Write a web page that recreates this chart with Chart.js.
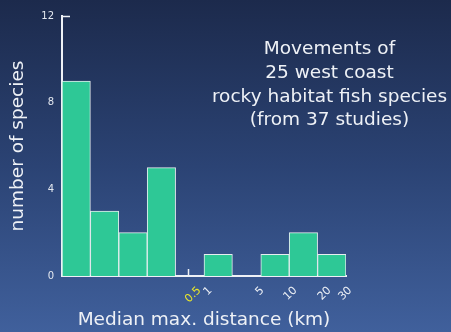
<!DOCTYPE html>
<html>
<head>
<meta charset="utf-8">
<script src="https://cdn.jsdelivr.net/npm/chart.js@4/dist/chart.umd.min.js"></script>
<style>
  html, body { margin: 0; padding: 0; }
  body { width: 451px; height: 332px; overflow: hidden;
         background: linear-gradient(to bottom, #1c2a4c 0%, #2b4374 50%, #40609c 100%); }
  #wrap { position: relative; width: 451px; height: 332px; }
  canvas { display: block; }
</style>
</head>
<body>
<div id="wrap"><canvas id="c" width="451" height="332"></canvas></div>
<script>
// Histogram bins of median maximum movement distance (10 bins, left to right)
const bins = ['b1', 'b2', 'b3', 'b4', 'b5', 'b6', 'b7', 'b8', 'b9', 'b10'];
// Number of species in each bin
const speciesCounts = [9, 3, 2, 5, 0, 1, 0, 1, 2, 1];
// Y axis tick values
const countTicks = [0, 4, 8, 12];
// Distance labels (km) and where they sit along the bin axis (in bin widths)
const distanceLabels = ['0.5', '1', '5', '10', '20', '30'];
const distanceLabelAt = [4.84, 5.23, 7.06, 8.22, 9.42, 10.15];
// Caption lines
const captionLines = ['Movements of', '25 west coast', 'rocky habitat fish species', '(from 37 studies)'];

const WHITE = '#eef1f6';
const FONT = 'DejaVu Sans';

// Caption text and the small inner axis ticks
const decorations = {
  id: 'decorations',
  afterDraw(chart) {
    const ctx = chart.ctx;
    const y = chart.scales.y, x = chart.scales.x;
    ctx.save();
    ctx.strokeStyle = WHITE;
    ctx.lineWidth = 1.5;
    // tick at the top of the count axis
    const yTop = Math.round(y.getPixelForValue(12)) + 0.5;
    ctx.beginPath();
    ctx.moveTo(chart.chartArea.left, yTop);
    ctx.lineTo(chart.chartArea.left + 8, yTop);
    ctx.stroke();
    // tick on the distance axis at the empty bin
    const xt = Math.round(x.getPixelForValue(4)) - 1.5;
    ctx.beginPath();
    ctx.moveTo(xt, chart.chartArea.bottom);
    ctx.lineTo(xt, chart.chartArea.bottom - 7);
    ctx.stroke();

    ctx.fillStyle = WHITE;
    ctx.font = '18.5px "' + FONT + '"';
    ctx.textAlign = 'center';
    ctx.textBaseline = 'alphabetic';
    const baselines = [54, 77.5, 101.5, 125];
    captionLines.forEach((t, i) => ctx.fillText(t, 329.5, baselines[i]));
    ctx.restore();
  }
};

new Chart(document.getElementById('c'), {
  type: 'bar',
  data: {
    labels: bins,
    datasets: [{
      data: speciesCounts,
      backgroundColor: '#2ec896',
      borderColor: 'rgba(240,246,246,0.95)',
      borderWidth: 1,
      barPercentage: 1,
      categoryPercentage: 1,
      xAxisID: 'x',
      yAxisID: 'y'
    }]
  },
  options: {
    responsive: false,
    animation: false,
    events: [],
    layout: { padding: { top: 16, right: 105, bottom: 0, left: 0 } },
    plugins: { legend: { display: false }, tooltip: { enabled: false }, title: { display: false } },
    scales: {
      x: {
        type: 'category',
        display: false
      },
      xd: {
        type: 'linear',
        position: 'bottom',
        offset: false,
        min: 0,
        max: 10,
        afterBuildTicks(scale) {
          scale.ticks = distanceLabelAt.map(v => ({ value: v }));
        },
        afterFit(scale) { scale.height = 56; },
        grid: { display: false, drawTicks: false, offset: false },
        border: { display: true, color: WHITE, width: 2 },
        ticks: {
          autoSkip: false,
          minRotation: 45,
          maxRotation: 45,
          padding: 8,
          font: { family: FONT, size: 11 },
          color: ctx => ctx.index === 0 ? '#e8e62a' : WHITE,
          callback: (v, i) => distanceLabels[i]
        },
        title: {
          display: true,
          text: 'Median max. distance (km)',
          color: WHITE,
          font: { family: FONT, size: 18.5 },
          padding: { top: 0, bottom: 1 }
        }
      },
      y: {
        type: 'linear',
        min: 0,
        max: 12,
        afterBuildTicks(scale) {
          scale.ticks = countTicks.map(v => ({ value: v }));
        },
        afterFit(scale) { scale.width = 62; },
        grid: { display: false, drawTicks: false },
        border: { display: true, color: WHITE, width: 2 },
        ticks: {
          padding: 8,
          font: { family: FONT, size: 10 },
          color: '#e4e8ef'
        },
        title: {
          display: true,
          text: 'number of species',
          color: WHITE,
          font: { family: FONT, size: 18.5 },
          padding: { top: 7.5, bottom: 0 }
        }
      }
    }
  },
  plugins: [decorations]
});
</script>
</body>
</html>
